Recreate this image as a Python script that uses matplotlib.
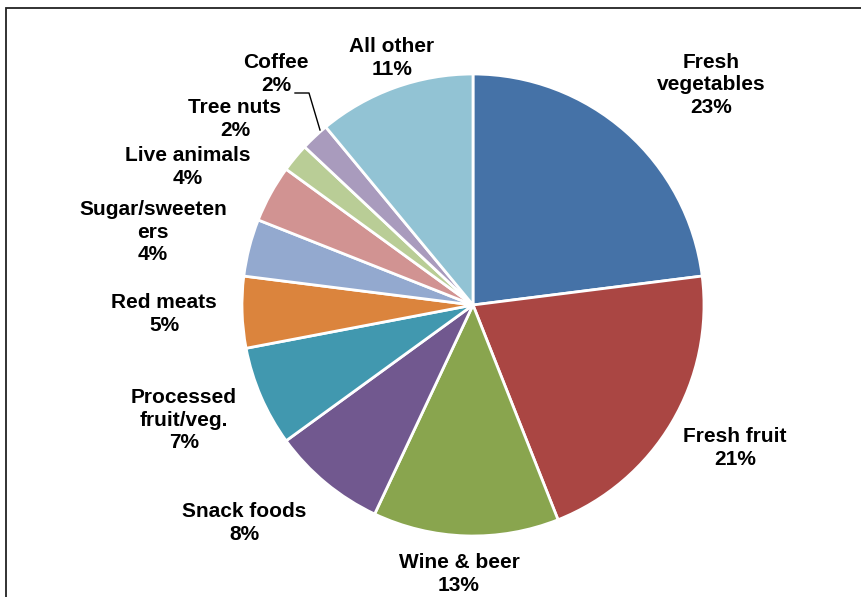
import matplotlib
matplotlib.use("Agg")
import matplotlib.pyplot as plt
from matplotlib.patches import Rectangle

categories = ["Fresh\nvegetables", "Fresh fruit", "Wine & beer", "Snack foods",
              "Processed\nfruit/veg.", "Red meats", "Sugar/sweeten\ners",
              "Live animals", "Tree nuts", "Coffee", "All other"]
shares = [23, 21, 13, 8, 7, 5, 4, 4, 2, 2, 11]
colors = ["#4572A7", "#AA4643", "#89A54E", "#71588F", "#4198AF", "#DB843D",
          "#93A9CF", "#D19392", "#B9CD96", "#A99BBD", "#92C3D4"]

W, H = 862, 597
CX, CY, R = 473, 305, 231

def px(x, y):
    return (x - CX) / R, (CY - y) / R

# label block centres in pixels (layout)
label_pos = [(711, 85), (735, 448), (459, 574), (244, 523), (184, 420),
             (164, 314), (153, 232), (188, 167), (235, 119), (276, 74), (392, 58)]

fig = plt.figure(figsize=(W / 100, H / 100), dpi=100)
ax = fig.add_axes([0, 0, 1, 1])

ax.pie(shares, colors=colors, startangle=90, counterclock=False, radius=1,
       center=(0, 0), frame=True,
       wedgeprops=dict(edgecolor="white", linewidth=2))
ax.set_xlim(-CX / R, (W - CX) / R)
ax.set_ylim(-(H - CY) / R, CY / R)
ax.set_aspect("auto")
ax.axis("off")

for cat, val, (lx, ly) in zip(categories, shares, label_pos):
    x, y = px(lx, ly)
    ax.text(x, y, f"{cat}\n{val}%", ha="center", va="center",
            fontsize=15, fontweight="bold", family="Liberation Sans",
            linespacing=1.22, color="#000000")

# leader line for Coffee
pts = [px(295, 93), px(309, 93), px(320, 130)]
ax.plot([p[0] for p in pts], [p[1] for p in pts], color="black", linewidth=1)

# chart frame
x0, y0 = px(6, 8)
x1, y1 = px(870, 610)
ax.add_patch(Rectangle((x0, y1), x1 - x0, y0 - y1, fill=False,
                       edgecolor="#222222", linewidth=1.3, clip_on=False))

fig.savefig("out.png", dpi=100)
